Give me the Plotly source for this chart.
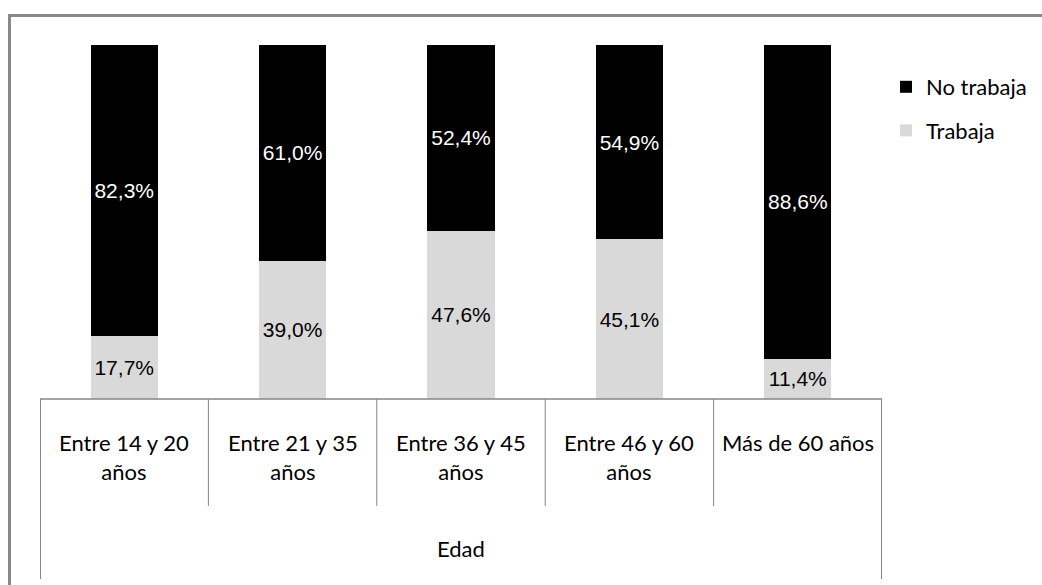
import plotly.graph_objects as go

# Age groups and share of people who work / don't work (percent)
categories = ["Entre 14 y 20 años", "Entre 21 y 35 años", "Entre 36 y 45 años",
              "Entre 46 y 60 años", "Más de 60 años"]
tick_labels = ["Entre 14 y 20<br>años", "Entre 21 y 35<br>años", "Entre 36 y 45<br>años",
               "Entre 46 y 60<br>años", "Más de 60 años"]
trabaja = [17.7, 39.0, 47.6, 45.1, 11.4]
no_trabaja = [82.3, 61.0, 52.4, 54.9, 88.6]
group_title = "Edad"

W, H = 1042, 585


def px(x):
    return x / W


def py(y):
    return 1 - y / H


label_font = "Lato, Calibri, sans-serif"
value_font = "Liberation Sans, Arial, sans-serif"
line_col = "#868686"

idx = list(range(len(categories)))

fig = go.Figure()
fig.add_trace(go.Bar(
    x=idx, y=trabaja, name="Trabaja", legendgroup="t", legendrank=2,
    marker=dict(color="#d9d9d9", line=dict(width=0)),
    width=0.4, texttemplate="%{y:.1f}%", textposition="inside",
    insidetextanchor="middle", textangle=0, constraintext="none",
    insidetextfont=dict(family=value_font, size=21, color="#000000"),
    hoverinfo="skip",
))
fig.add_trace(go.Bar(
    x=idx, y=no_trabaja, name="No trabaja", legendgroup="n", legendrank=1,
    marker=dict(color="#000000", line=dict(width=0)),
    width=0.4, texttemplate="%{y:.1f}%", textposition="inside",
    insidetextanchor="middle", textangle=0, constraintext="none",
    insidetextfont=dict(family=value_font, size=21, color="#ffffff"),
    hoverinfo="skip",
))

shapes = []
# baseline of the category table
shapes.append(dict(type="line", xref="x", yref="paper", x0=-0.5, x1=len(categories) - 0.5,
                   y0=py(399), y1=py(399), line=dict(color=line_col, width=1.5)))
# cell dividers
for i in range(len(categories) + 1):
    b = i - 0.5
    outer = i in (0, len(categories))
    shapes.append(dict(type="line", xref="x", yref="paper", x0=b, x1=b,
                       y0=py(399), y1=py(579 if outer else 506),
                       line=dict(color=line_col, width=2 if outer else 1)))
# chart frame (top and left edges)
shapes.append(dict(type="line", xref="paper", yref="paper", x0=px(8), x1=1.0,
                   y0=py(15.5), y1=py(15.5), line=dict(color="#898989", width=3)))
shapes.append(dict(type="line", xref="paper", yref="paper", x0=px(9.5), x1=px(9.5),
                   y0=py(14), y1=0.0, line=dict(color="#898989", width=3)))

annotations = []
for i, t in enumerate(tick_labels):
    annotations.append(dict(x=i, y=py(427), xref="x", yref="paper", text=t, showarrow=False,
                            xanchor="center", yanchor="top", align="center",
                            font=dict(family=label_font, size=22, color="#000000")))
annotations.append(dict(x=(len(categories) - 1) / 2, y=py(548), xref="x", yref="paper",
                        text=group_title, showarrow=False, xanchor="center", yanchor="middle",
                        font=dict(family=label_font, size=22, color="#000000")))

fig.update_layout(
    width=W, height=H,
    margin=dict(l=0, r=0, t=0, b=0),
    paper_bgcolor="#ffffff", plot_bgcolor="#ffffff",
    barmode="stack", separators=",.",
    xaxis=dict(domain=[px(40), px(882)], range=[-0.5, len(categories) - 0.5],
               showticklabels=False, showgrid=False, zeroline=False, showline=False,
               ticks="", fixedrange=True),
    yaxis=dict(domain=[py(399), py(45)], range=[0, 100], visible=False, fixedrange=True),
    showlegend=True,
    legend=dict(x=px(886), y=py(66), xanchor="left", yanchor="top",
                traceorder="grouped", tracegroupgap=12,
                bgcolor="rgba(0,0,0,0)",
                font=dict(family=label_font, size=22, color="#000000")),
    shapes=shapes,
    annotations=annotations,
)

fig.write_html("out.html")
